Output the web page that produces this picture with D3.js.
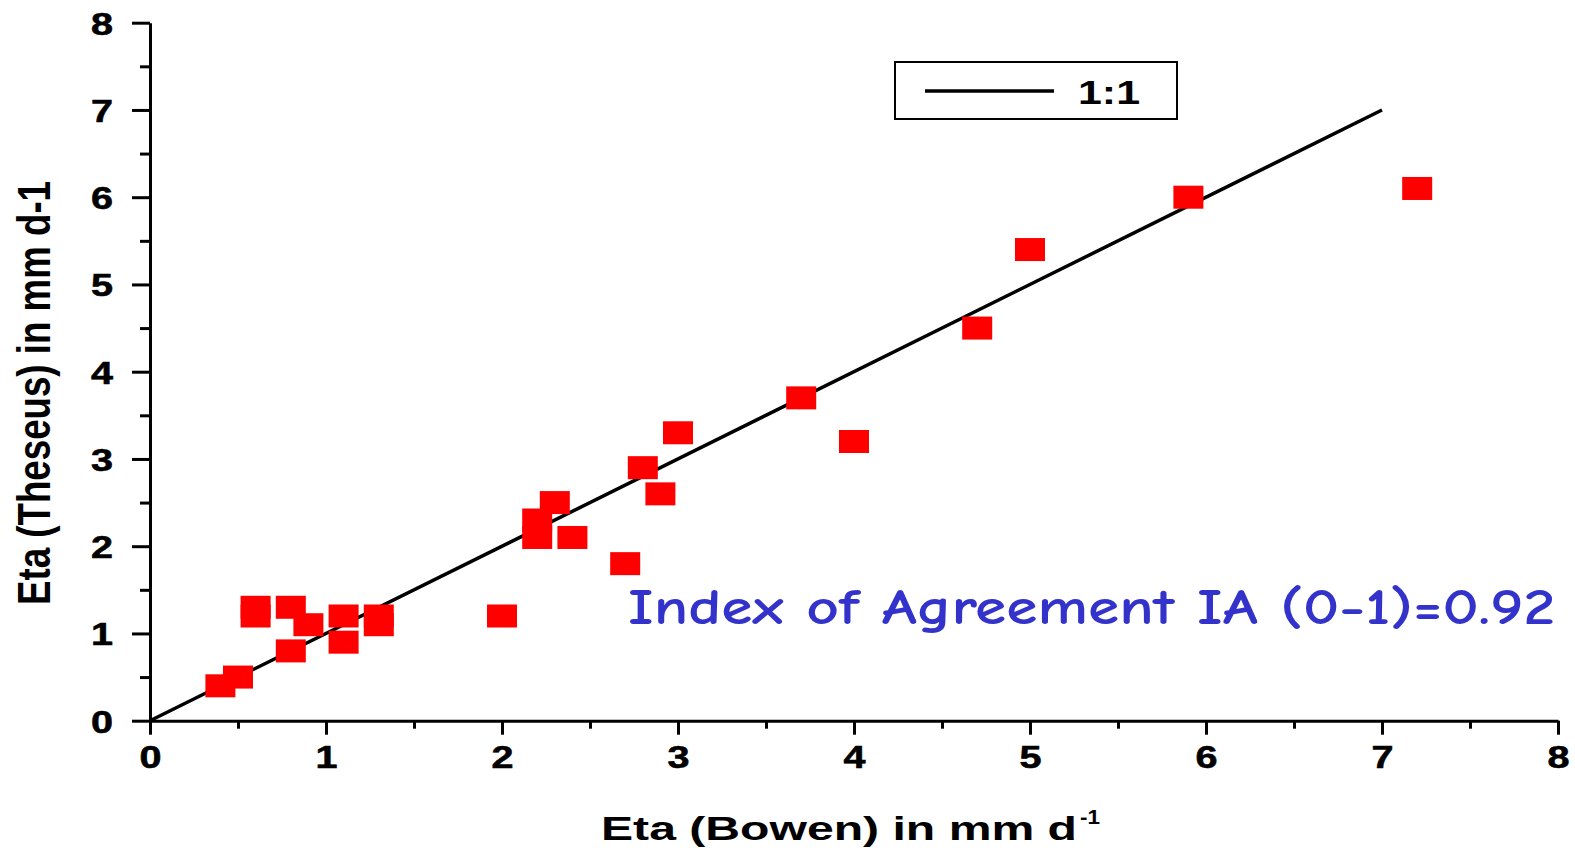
<!DOCTYPE html>
<html>
<head>
<meta charset="utf-8">
<script src="https://cdn.jsdelivr.net/npm/d3@7"></script>
<style>
  html, body { margin: 0; padding: 0; background: #fff; }
  svg text { font-family: "Liberation Sans", Arial, sans-serif; font-weight: bold; }
</style>
</head>
<body>
<div id="chart"></div>
<script>
// observed values (Bowen vs Theseus), mm per day
const bowenVals = [0.4, 0.5, 0.6, 0.6, 0.8, 0.8, 0.9, 1.1, 1.1, 1.3, 1.3, 2.0, 2.2, 2.2, 2.3, 2.4, 2.7, 2.8, 2.9, 3.0, 3.7, 4.0, 4.7, 5.0, 5.9, 7.2];
const theseusVals = [0.4, 0.5, 1.3, 1.2, 1.3, 0.8, 1.1, 1.2, 0.9, 1.2, 1.1, 1.2, 2.3, 2.1, 2.5, 2.1, 1.8, 2.9, 2.6, 3.3, 3.7, 3.2, 4.5, 5.4, 6.0, 6.1];
const oneToOne = [0, 7];
const majorTicks = [0, 1, 2, 3, 4, 5, 6, 7, 8];
const minorTicks = [0.5, 1.5, 2.5, 3.5, 4.5, 5.5, 6.5, 7.5];

const width = 1575, height = 854;
const margin = { top: 22.7, left: 150, bottom: 133.3, right: 17 };

const svg = d3.select("#chart")
    .append("svg")
    .attr("width", width)
    .attr("height", height);

const x = d3.scaleLinear().domain([0, 8]).range([margin.left, width - margin.right]);
const y = d3.scaleLinear().domain([0, 8]).range([height - margin.bottom, margin.top]);

// x axis
const xAxis = svg.append("g").attr("transform", `translate(0,${y(0)})`);
xAxis.call(d3.axisBottom(x).tickValues(majorTicks).tickSize(14).tickSizeOuter(0).tickFormat(d3.format("d")));
xAxis.append("g").call(d3.axisBottom(x).tickValues(minorTicks).tickSize(8).tickFormat(""))
    .select(".domain").remove();
xAxis.selectAll("path.domain").attr("stroke", "#000").attr("stroke-width", 3);
xAxis.selectAll("line").attr("stroke", "#000").attr("stroke-width", 3);
xAxis.selectAll("text")
    .attr("font-size", 32).attr("fill", "#000").attr("dy", "1.05em").attr("y", 14)
    .attr("stroke", "#000").attr("stroke-width", 0.6)
    .attr("textLength", 22).attr("lengthAdjust", "spacingAndGlyphs");

// y axis
const yAxis = svg.append("g").attr("transform", `translate(${x(0)},0)`);
yAxis.call(d3.axisLeft(y).tickValues(majorTicks).tickSize(18).tickSizeOuter(0).tickFormat(d3.format("d")));
yAxis.append("g").call(d3.axisLeft(y).tickValues(minorTicks).tickSize(10).tickFormat(""))
    .select(".domain").remove();
yAxis.selectAll("path.domain").attr("stroke", "#000").attr("stroke-width", 3);
yAxis.selectAll("line").attr("stroke", "#000").attr("stroke-width", 3);
yAxis.selectAll("text")
    .attr("font-size", 32).attr("fill", "#000").attr("x", -37).attr("dy", "0.36em")
    .attr("stroke", "#000").attr("stroke-width", 0.6)
    .attr("textLength", 22).attr("lengthAdjust", "spacingAndGlyphs");

// axis titles
svg.append("text")
    .attr("x", 601).attr("y", 840)
    .attr("font-size", 34)
    .attr("textLength", 476)
    .attr("lengthAdjust", "spacingAndGlyphs")
    .text("Eta (Bowen) in mm d");
svg.append("text")
    .attr("x", 1080).attr("y", 824)
    .attr("font-size", 21)
    .attr("textLength", 20)
    .attr("lengthAdjust", "spacingAndGlyphs")
    .text("-1");

svg.append("text")
    .attr("transform", "translate(50,393) scale(1.3,1) rotate(-90)")
    .attr("text-anchor", "middle")
    .attr("font-size", 36)
    .attr("textLength", 424)
    .attr("lengthAdjust", "spacingAndGlyphs")
    .text("Eta (Theseus) in mm d-1");

// 1:1 line
svg.append("line")
    .attr("x1", x(oneToOne[0])).attr("y1", y(oneToOne[0]))
    .attr("x2", x(oneToOne[1])).attr("y2", y(oneToOne[1]))
    .attr("stroke", "#000").attr("stroke-width", 3.5);

// points
const pts = bowenVals.map((b, i) => ({ b: b, t: theseusVals[i] }));
svg.append("g").selectAll("rect")
    .data(pts)
    .enter().append("rect")
    .attr("x", d => x(d.b) - 15)
    .attr("y", d => y(d.t) - 11.5)
    .attr("width", 30)
    .attr("height", 23)
    .attr("fill", "#ff0000");

// legend
const leg = svg.append("g");
leg.append("rect")
    .attr("x", 895).attr("y", 62).attr("width", 282).attr("height", 57)
    .attr("fill", "#fff").attr("stroke", "#000").attr("stroke-width", 2);
leg.append("line")
    .attr("x1", 925).attr("x2", 1054).attr("y1", 91).attr("y2", 91)
    .attr("stroke", "#000").attr("stroke-width", 3.5);
leg.append("text")
    .attr("x", 1078).attr("y", 104)
    .attr("font-size", 33)
    .attr("textLength", 62)
    .attr("lengthAdjust", "spacingAndGlyphs")
    .text("1:1");

// index of agreement
svg.append("text")
    .attr("x", 628).attr("y", 624)
    .attr("font-size", 50)
    .attr("textLength", 927)
    .attr("lengthAdjust", "spacingAndGlyphs")
    .style("font-family", "'Comic Sans MS', 'Comic Neue', 'DejaVu Sans', sans-serif")
    .style("font-weight", "bold")
    .attr("fill", "#3333cc")
    .text("Index of Agreement IA (0-1)=0.92");
</script>
</body>
</html>
